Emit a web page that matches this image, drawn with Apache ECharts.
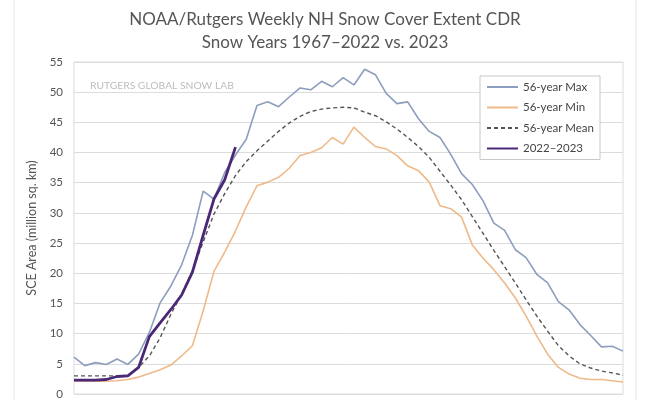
<!DOCTYPE html>
<html>
<head>
<meta charset="utf-8">
<script src="https://cdn.jsdelivr.net/npm/echarts@6/dist/echarts.min.js"></script>
<style>
  html, body { margin: 0; padding: 0; background: #fff; }
  #chart { width: 650px; height: 400px; }
</style>
</head>
<body>
<div id="chart"></div>
<script>
// snow year weeks
const weeks = [1, 2, 3, 4, 5, 6, 7, 8, 9, 10, 11, 12, 13, 14, 15, 16, 17, 18, 19, 20,
  21, 22, 23, 24, 25, 26, 27, 28, 29, 30, 31, 32, 33, 34, 35, 36, 37, 38, 39, 40,
  41, 42, 43, 44, 45, 46, 47, 48, 49, 50, 51, 52];

// 56-year max
const maxValues = [6.1, 4.7, 5.2, 4.9, 5.8, 4.9, 6.6, 10.2, 15.1, 17.9, 21.4, 26.3, 33.6, 32.3,
  36.7, 39.6, 42.2, 47.8, 48.4, 47.6, 49.2, 50.7, 50.4, 51.8, 50.9, 52.4, 51.2, 53.8, 52.9,
  49.8, 48.1, 48.4, 45.6, 43.5, 42.5, 39.7, 36.5, 34.7, 32.0, 28.3, 27.1, 23.9, 22.6, 19.8,
  18.4, 15.3, 13.9, 11.5, 9.7, 7.8, 7.9, 7.1];

// 56-year min
const minValues = [2.1, 2.1, 2.1, 2.1, 2.2, 2.4, 2.8, 3.4, 4.0, 4.8, 6.3, 8.0, 13.8, 20.3,
  23.5, 27.0, 31.0, 34.5, 35.1, 35.9, 37.4, 39.5, 40.0, 40.8, 42.5, 41.4, 44.2, 42.5, 41.0,
  40.6, 39.5, 37.8, 37.0, 35.1, 31.2, 30.7, 29.3, 24.7, 22.5, 20.6, 18.4, 15.9, 12.9, 9.6,
  6.6, 4.4, 3.3, 2.6, 2.4, 2.4, 2.2, 2.0];

// 56-year mean
const meanValues = [3.0, 3.0, 3.0, 3.0, 3.0, 3.1, 4.4, 6.3, 9.3, 13.2, 16.6, 20.4, 25.2, 29.8,
  33.2, 36.2, 38.5, 40.3, 41.9, 43.5, 44.9, 46.0, 46.8, 47.2, 47.4, 47.5, 47.4, 46.7, 46.1,
  45.1, 43.9, 42.5, 41.0, 39.2, 36.9, 34.6, 32.2, 29.4, 26.6, 23.8, 21.1, 18.4, 15.6, 12.9,
  10.4, 8.0, 6.3, 5.0, 4.3, 3.8, 3.5, 3.1];

// 2022-2023 so far
const current = [2.3, 2.3, 2.3, 2.4, 2.9, 3.0, 4.4, 9.5, 11.8, 14.0, 16.4, 20.2, 26.3, 32.3,
  35.5, 40.9];

const chart = echarts.init(document.getElementById("chart"));

const option = {
  backgroundColor: "#fff",
  animation: false,
  title: {
    text: "NOAA/Rutgers Weekly NH Snow Cover Extent CDR\nSnow Years 1967–2022 vs. 2023",
    left: "center",
    top: 3,
    textStyle: {
      fontFamily: "Lato",
      fontSize: 17,
      fontWeight: "normal",
      lineHeight: 23,
      color: "#555",
    },
  },
  grid: {
    left: 74,
    right: 27,
    top: 62,
    bottom: 3,
    show: true,
    borderColor: "#dcdcdc",
    borderWidth: 1,
  },
  legend: {
    orient: "vertical",
    left: 480,
    top: 76,
    padding: [5, 6, 5, 6],
    itemGap: 8.5,
    itemWidth: 31,
    itemHeight: 14,
    backgroundColor: "#fff",
    borderColor: "#c8c8c8",
    borderWidth: 1,
    // hide the circle, keep the line
    itemStyle: { opacity: 0 },
    textStyle: { fontFamily: "Lato", fontSize: 11.5, color: "#444" },
    data: ["56-year Max", "56-year Min", "56-year Mean", "2022–2023"],
  },
  xAxis: {
    type: "category",
    data: weeks,
    boundaryGap: false,
    axisLine: { show: false },
    axisTick: { show: false },
    axisLabel: { show: false },
    splitLine: { show: false },
  },
  yAxis: {
    type: "value",
    min: 0,
    max: 55,
    interval: 5,
    name: "SCE Area (million sq. km)",
    nameLocation: "middle",
    nameGap: 36,
    nameTextStyle: { fontFamily: "Lato", fontSize: 12.5, color: "#555" },
    axisLine: { show: false },
    axisTick: { show: false },
    axisLabel: { fontFamily: "Lato", fontSize: 11.5, color: "#555", margin: 11 },
    splitLine: { lineStyle: { color: "#dcdcdc", width: 1 } },
  },
  graphic: [
    {
      type: "text",
      left: 90,
      top: 81,
      style: {
        text: "RUTGERS GLOBAL SNOW LAB",
        fontFamily: "Lato",
        fontSize: 10.3,
        fill: "#bdbdbd",
      },
    },
    {
      type: "rect",
      shape: { x: 14, y: -2, width: 622, height: 410 },
      style: { fill: "none", stroke: "#e4e4e4", lineWidth: 1 },
      silent: true,
      z: -1,
    },
  ],
  series: [
    {
      name: "56-year Max",
      type: "line",
      data: maxValues,
      symbol: "none",
      lineStyle: { color: "#8d9ebd", width: 1.6 },
      itemStyle: { color: "#8d9ebd" },
    },
    {
      name: "56-year Min",
      type: "line",
      data: minValues,
      symbol: "none",
      lineStyle: { color: "#efb98a", width: 1.6 },
      itemStyle: { color: "#efb98a" },
    },
    {
      name: "56-year Mean",
      type: "line",
      data: meanValues,
      symbol: "none",
      lineStyle: { color: "#555", width: 1.4, type: [4, 3] },
      itemStyle: { color: "#555" },
    },
    {
      name: "2022–2023",
      type: "line",
      data: current,
      symbol: "none",
      lineStyle: { color: "#4a2877", width: 2.8 },
      itemStyle: { color: "#4a2877" },
      z: 5,
    },
  ],
};

chart.setOption(option);
</script>
</body>
</html>
